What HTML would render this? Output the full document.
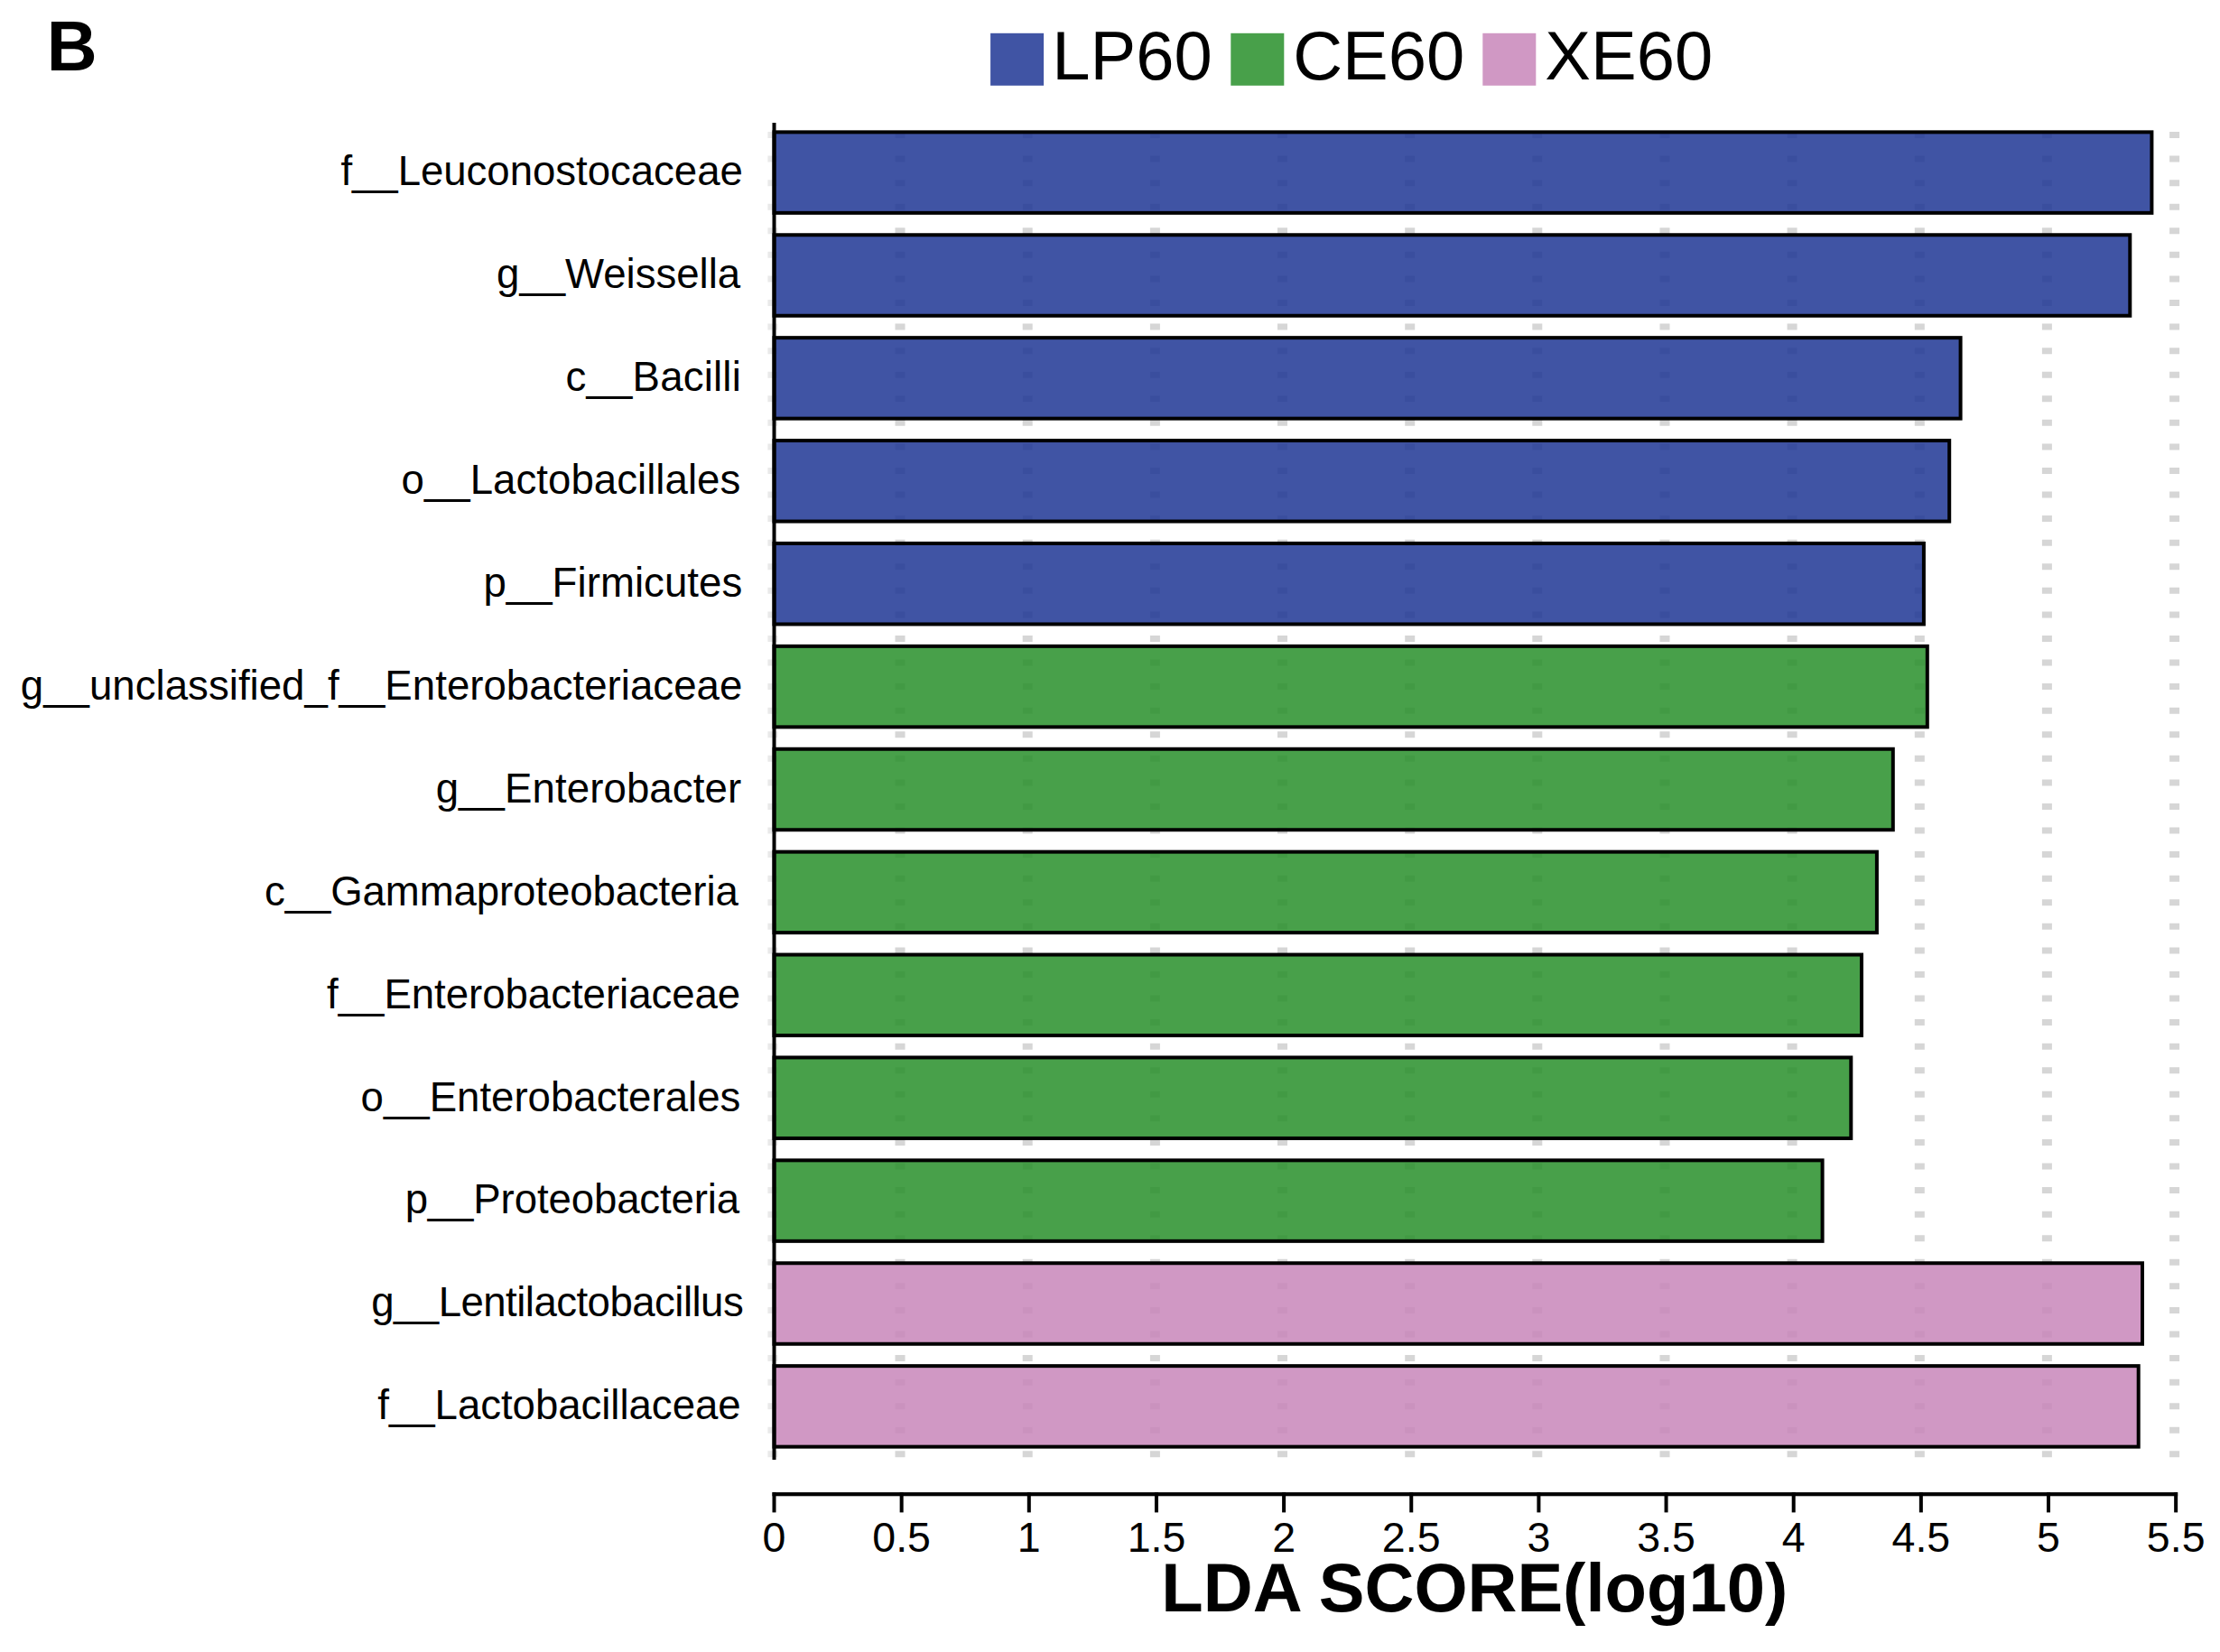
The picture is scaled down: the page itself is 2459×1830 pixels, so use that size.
<!DOCTYPE html>
<html lang="en"><head><meta charset="utf-8"><title>LDA SCORE(log10)</title>
<style>html,body{margin:0;padding:0;background:#fff}body{width:2459px;height:1830px;overflow:hidden}svg{display:block}text{font-family:"Liberation Sans",sans-serif;fill:#000}.b{font-weight:bold}</style>
</head><body>
<svg width="2459" height="1830" viewBox="0 0 2459 1830">
<rect x="0" y="0" width="2459" height="1830" fill="#fff"/>
<text class="b" x="51.8" y="77.7" font-size="77.4">B</text>
<rect x="1097.1" y="36.8" width="59" height="58" fill="#4054a4"/>
<text x="1165.3" y="88.3" font-size="76">LP60</text>
<rect x="1363.3" y="36.8" width="59" height="58" fill="#48a04a"/>
<text x="1432.2" y="88.3" font-size="76">CE60</text>
<rect x="1642.3" y="36.8" width="59" height="58" fill="#d098c4"/>
<text x="1711.3" y="88.3" font-size="76">XE60</text>
<line x1="855.9" y1="146" x2="855.9" y2="1615" stroke="#e9e9e9" stroke-width="11" stroke-dasharray="7 19.57"/>
<line x1="997.0" y1="146" x2="997.0" y2="1615" stroke="#d6d6d6" stroke-width="11" stroke-dasharray="7 19.57"/>
<line x1="1138.2" y1="146" x2="1138.2" y2="1615" stroke="#d6d6d6" stroke-width="11" stroke-dasharray="7 19.57"/>
<line x1="1279.4" y1="146" x2="1279.4" y2="1615" stroke="#d6d6d6" stroke-width="11" stroke-dasharray="7 19.57"/>
<line x1="1420.5" y1="146" x2="1420.5" y2="1615" stroke="#d6d6d6" stroke-width="11" stroke-dasharray="7 19.57"/>
<line x1="1561.7" y1="146" x2="1561.7" y2="1615" stroke="#d6d6d6" stroke-width="11" stroke-dasharray="7 19.57"/>
<line x1="1702.8" y1="146" x2="1702.8" y2="1615" stroke="#d6d6d6" stroke-width="11" stroke-dasharray="7 19.57"/>
<line x1="1844.0" y1="146" x2="1844.0" y2="1615" stroke="#d6d6d6" stroke-width="11" stroke-dasharray="7 19.57"/>
<line x1="1985.1" y1="146" x2="1985.1" y2="1615" stroke="#d6d6d6" stroke-width="11" stroke-dasharray="7 19.57"/>
<line x1="2126.3" y1="146" x2="2126.3" y2="1615" stroke="#d6d6d6" stroke-width="11" stroke-dasharray="7 19.57"/>
<line x1="2267.4" y1="146" x2="2267.4" y2="1615" stroke="#d6d6d6" stroke-width="11" stroke-dasharray="7 19.57"/>
<line x1="2408.6" y1="146" x2="2408.6" y2="1615" stroke="#d6d6d6" stroke-width="11" stroke-dasharray="7 19.57"/>
<rect x="857.50" y="146.35" width="1525.90" height="89.50" fill="#1e3694" fill-opacity="0.85" stroke="#000" stroke-width="4.0"/>
<rect x="857.50" y="260.25" width="1501.80" height="89.50" fill="#1e3694" fill-opacity="0.85" stroke="#000" stroke-width="4.0"/>
<rect x="857.50" y="374.15" width="1314.10" height="89.50" fill="#1e3694" fill-opacity="0.85" stroke="#000" stroke-width="4.0"/>
<rect x="857.50" y="488.05" width="1301.70" height="89.50" fill="#1e3694" fill-opacity="0.85" stroke="#000" stroke-width="4.0"/>
<rect x="857.50" y="601.95" width="1273.40" height="89.50" fill="#1e3694" fill-opacity="0.85" stroke="#000" stroke-width="4.0"/>
<rect x="857.50" y="715.85" width="1277.30" height="89.50" fill="#288f2a" fill-opacity="0.85" stroke="#000" stroke-width="4.0"/>
<rect x="857.50" y="829.75" width="1239.30" height="89.50" fill="#288f2a" fill-opacity="0.85" stroke="#000" stroke-width="4.0"/>
<rect x="857.50" y="943.65" width="1221.40" height="89.50" fill="#288f2a" fill-opacity="0.85" stroke="#000" stroke-width="4.0"/>
<rect x="857.50" y="1057.55" width="1204.50" height="89.50" fill="#288f2a" fill-opacity="0.85" stroke="#000" stroke-width="4.0"/>
<rect x="857.50" y="1171.45" width="1192.80" height="89.50" fill="#288f2a" fill-opacity="0.85" stroke="#000" stroke-width="4.0"/>
<rect x="857.50" y="1285.35" width="1161.10" height="89.50" fill="#288f2a" fill-opacity="0.85" stroke="#000" stroke-width="4.0"/>
<rect x="857.50" y="1399.25" width="1515.50" height="89.50" fill="#c886ba" fill-opacity="0.85" stroke="#000" stroke-width="4.0"/>
<rect x="857.50" y="1513.15" width="1511.20" height="89.50" fill="#c886ba" fill-opacity="0.85" stroke="#000" stroke-width="4.0"/>
<rect x="855.50" y="136" width="4" height="1481" fill="#000"/>
<text x="822.80" y="205.4" font-size="45.6" text-anchor="end" letter-spacing="-0.040">f__Leuconostocaceae</text>
<text x="820.20" y="319.3" font-size="45.6" text-anchor="end" letter-spacing="-0.018">g__Weissella</text>
<text x="821.00" y="433.2" font-size="45.6" text-anchor="end" letter-spacing="0.191">c__Bacilli</text>
<text x="820.30" y="547.1" font-size="45.6" text-anchor="end" letter-spacing="0.033">o__Lactobacillales</text>
<text x="822.30" y="661.0" font-size="45.6" text-anchor="end" letter-spacing="0.043">p__Firmicutes</text>
<text x="822.30" y="774.9" font-size="45.6" text-anchor="end" letter-spacing="0.029">g__unclassified_f__Enterobacteriaceae</text>
<text x="821.20" y="888.8" font-size="45.6" text-anchor="end" letter-spacing="0.093">g__Enterobacter</text>
<text x="817.70" y="1002.7" font-size="45.6" text-anchor="end" letter-spacing="-0.116">c__Gammaproteobacteria</text>
<text x="820.20" y="1116.6" font-size="45.6" text-anchor="end" letter-spacing="-0.034">f__Enterobacteriaceae</text>
<text x="820.30" y="1230.5" font-size="45.6" text-anchor="end" letter-spacing="-0.002">o__Enterobacterales</text>
<text x="819.10" y="1344.4" font-size="45.6" text-anchor="end" letter-spacing="-0.126">p__Proteobacteria</text>
<text x="823.20" y="1458.3" font-size="45.6" text-anchor="end" letter-spacing="-0.538">g__Lentilactobacillus</text>
<text x="820.60" y="1572.2" font-size="45.6" text-anchor="end" letter-spacing="-0.040">f__Lactobacillaceae</text>
<rect x="855.50" y="1653.1" width="1556.65" height="4.2" fill="#000"/>
<rect x="855.50" y="1653.1" width="4" height="22.3" fill="#000"/>
<text x="857.5" y="1718.6" font-size="46.5" text-anchor="middle">0</text>
<rect x="996.65" y="1653.1" width="4" height="22.3" fill="#000"/>
<text x="998.6" y="1718.6" font-size="46.5" text-anchor="middle">0.5</text>
<rect x="1137.80" y="1653.1" width="4" height="22.3" fill="#000"/>
<text x="1139.8" y="1718.6" font-size="46.5" text-anchor="middle">1</text>
<rect x="1278.95" y="1653.1" width="4" height="22.3" fill="#000"/>
<text x="1281.0" y="1718.6" font-size="46.5" text-anchor="middle">1.5</text>
<rect x="1420.10" y="1653.1" width="4" height="22.3" fill="#000"/>
<text x="1422.1" y="1718.6" font-size="46.5" text-anchor="middle">2</text>
<rect x="1561.25" y="1653.1" width="4" height="22.3" fill="#000"/>
<text x="1563.2" y="1718.6" font-size="46.5" text-anchor="middle">2.5</text>
<rect x="1702.40" y="1653.1" width="4" height="22.3" fill="#000"/>
<text x="1704.4" y="1718.6" font-size="46.5" text-anchor="middle">3</text>
<rect x="1843.55" y="1653.1" width="4" height="22.3" fill="#000"/>
<text x="1845.6" y="1718.6" font-size="46.5" text-anchor="middle">3.5</text>
<rect x="1984.70" y="1653.1" width="4" height="22.3" fill="#000"/>
<text x="1986.7" y="1718.6" font-size="46.5" text-anchor="middle">4</text>
<rect x="2125.85" y="1653.1" width="4" height="22.3" fill="#000"/>
<text x="2127.9" y="1718.6" font-size="46.5" text-anchor="middle">4.5</text>
<rect x="2267.00" y="1653.1" width="4" height="22.3" fill="#000"/>
<text x="2269.0" y="1718.6" font-size="46.5" text-anchor="middle">5</text>
<rect x="2408.15" y="1653.1" width="4" height="22.3" fill="#000"/>
<text x="2410.2" y="1718.6" font-size="46.5" text-anchor="middle">5.5</text>
<text class="b" x="1633.3" y="1785.4" font-size="76" text-anchor="middle">LDA SCORE(log10)</text>
</svg></body></html>
